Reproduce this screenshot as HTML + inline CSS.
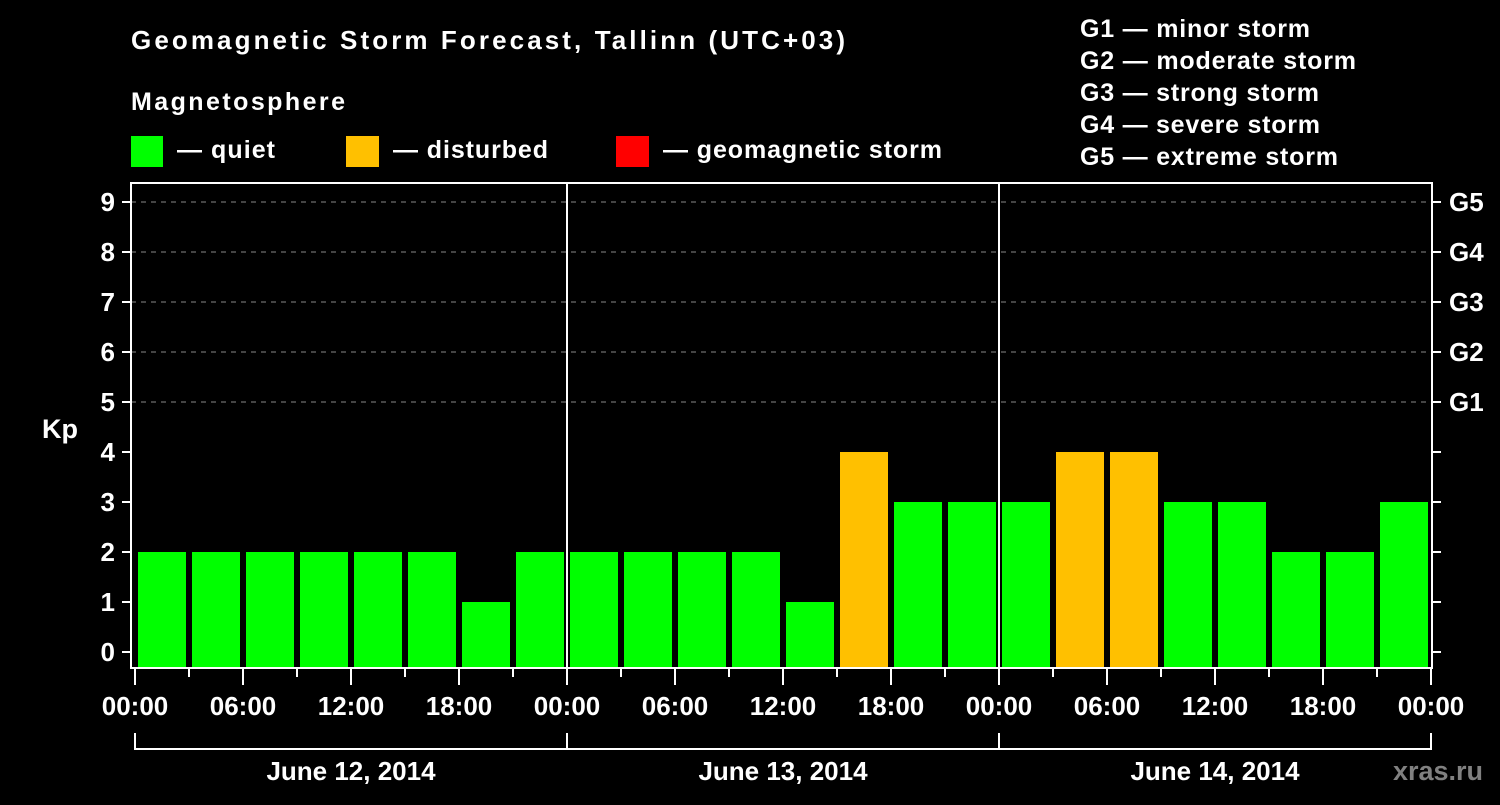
<!DOCTYPE html>
<html><head><meta charset="utf-8"><style>
body{margin:0;background:#000;width:1500px;height:800px;overflow:hidden}
svg text{font-family:"Liberation Sans",sans-serif;font-weight:bold;fill:#fff}
</style></head><body>
<svg width="1500" height="800">
<text x="131" y="49" font-size="26" textLength="714">Geomagnetic Storm Forecast, Tallinn (UTC+03)</text>
<text x="131" y="110" font-size="25" textLength="214">Magnetosphere</text>
<rect x="131" y="136" width="32" height="31" fill="#00ff00"/>
<text x="177" y="158" font-size="25" textLength="98">— quiet</text>
<rect x="346" y="136" width="33" height="31" fill="#ffc000"/>
<text x="393" y="158" font-size="25" textLength="155">— disturbed</text>
<rect x="616" y="136" width="33" height="31" fill="#ff0000"/>
<text x="663" y="158" font-size="25" textLength="279">— geomagnetic storm</text>
<g font-size="25">
<text x="1080" y="37" textLength="230">G1 — minor storm</text>
<text x="1080" y="69" textLength="276">G2 — moderate storm</text>
<text x="1080" y="101" textLength="239">G3 — strong storm</text>
<text x="1080" y="133" textLength="240">G4 — severe storm</text>
<text x="1080" y="165" textLength="258">G5 — extreme storm</text>
</g>
<text x="42" y="438" font-size="27">Kp</text>
<g id="grid"></g><g id="bars"></g><g id="axes"></g>
<text x="1483" y="780" font-size="27" text-anchor="end" style="fill:#808080">xras.ru</text>
</svg>
<script>
const kpValues=[2,2,2,2,2,2,1,2, 2,2,2,2,1,4,3,3, 3,4,4,3,3,2,2,3];
const yTicks=[0,1,2,3,4,5,6,7,8,9];
const gLabels=["G1","G2","G3","G4","G5"];
const gLevels=[5,6,7,8,9];
const hourLabels=["00:00","06:00","12:00","18:00"];
const dayLabels=["June 12, 2014","June 13, 2014","June 14, 2014"];
const NS="http://www.w3.org/2000/svg";
const X0=135, PXH=18, PTOP=183, PBOT=668, PLEFT=131, PRIGHT=1432;
const xs=h=>X0+h*PXH;
const ys=v=>652-v*50;
function mk(tag,attrs,parent){const e=document.createElementNS(NS,tag);for(const k in attrs)e.setAttribute(k,attrs[k]);parent.appendChild(e);return e;}
const grid=document.getElementById('grid'),bars=document.getElementById('bars'),axes=document.getElementById('axes');
gLevels.forEach(v=>{const l=mk('line',{x1:PLEFT,x2:PRIGHT,y1:ys(v),y2:ys(v),stroke:'#888','stroke-dasharray':'5,5','stroke-width':1},grid);

});
kpValues.forEach((v,i)=>{const c=v>=5?'#ff0000':(v>=4?'#ffc000':'#00ff00');
const r=mk('rect',{x:xs(i*3)+3,width:48,y:ys(v),height:PBOT-ys(v),fill:c},bars);

});
const fr=mk('rect',{x:PLEFT,y:PTOP,width:PRIGHT-PLEFT,height:PBOT-PTOP,fill:'none',stroke:'#fff','stroke-width':2},axes);


[1,2].forEach(d=>{const l=mk('line',{x1:xs(d*24),x2:xs(d*24),y1:PTOP,y2:PBOT,stroke:'#fff','stroke-width':2},axes);

});
yTicks.forEach(v=>{mk('line',{x1:122,x2:PLEFT,y1:ys(v),y2:ys(v),stroke:'#fff','stroke-width':2},axes);
mk('line',{x1:PRIGHT,x2:1441,y1:ys(v),y2:ys(v),stroke:'#fff','stroke-width':2},axes);
const t=mk('text',{x:115,y:ys(v)+9,'font-size':26,'text-anchor':'end'},axes);t.textContent=v;

});
gLabels.forEach((g,i)=>{const t=mk('text',{x:1449,y:ys(gLevels[i])+9,'font-size':26},axes);t.textContent=g;

});
for(let h=0;h<=72;h+=3){const major=h%6===0;
mk('line',{x1:xs(h),x2:xs(h),y1:PBOT,y2:major?685:677,stroke:'#fff','stroke-width':2},axes);
if(major){const t=mk('text',{x:xs(h),y:715,'font-size':26,'text-anchor':'middle'},axes);t.textContent=h===72?"00:00":hourLabels[(h%24)/6];

}}
mk('line',{x1:xs(0),x2:xs(72),y1:749,y2:749,stroke:'#fff','stroke-width':2},axes);
for(let d=0;d<=3;d++)mk('line',{x1:xs(d*24),x2:xs(d*24),y1:733,y2:750,stroke:'#fff','stroke-width':2},axes);
dayLabels.forEach((s,d)=>{const t=mk('text',{x:xs(d*24+12),y:780,'font-size':26,'text-anchor':'middle'},axes);t.textContent=s;

});
</script>
</body></html>
